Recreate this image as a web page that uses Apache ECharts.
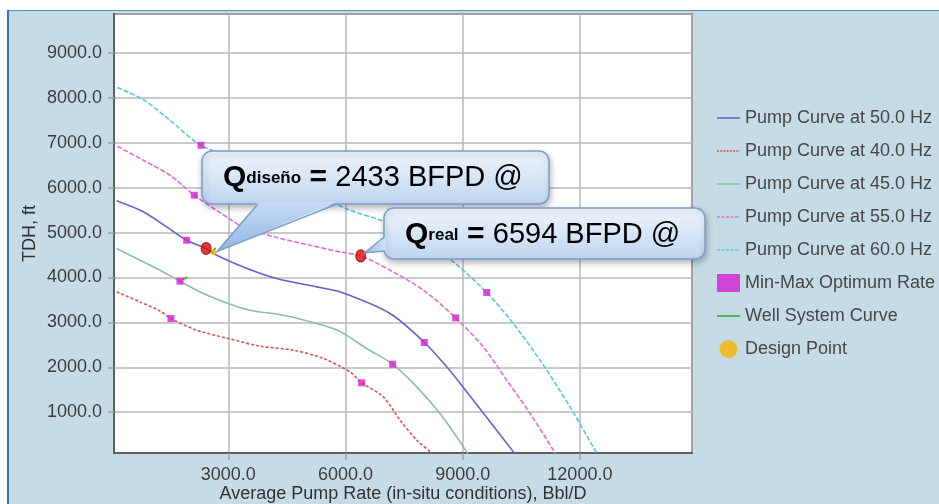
<!DOCTYPE html>
<html><head><meta charset="utf-8">
<script src="https://cdn.jsdelivr.net/npm/echarts@6/dist/echarts.min.js"></script>
<style>html,body{margin:0;padding:0;background:#fff}#c{width:939px;height:504px}</style>
</head><body><div id="c"></div>
<script>
// ---- data ----
const hz50 = [[143,5711],[824,5466],[1423,5127],[1935,4830],[2429,4646],[2703,4496],[3384,4236],[4237,3977],[5261,3791],[5855,3680],[7140,3198],[8019,2552],[8591,2010],[9272,1267],[9870,599],[10296,116],[10400,0]];
const hz40 = [[143,3679],[740,3456],[1252,3255],[1533,3085],[2191,2826],[3000,2641],[3811,2470],[4664,2381],[5432,2196],[6115,1897],[6415,1653],[6968,1341],[7396,822],[7823,376],[8164,116],[8250,0]];
const hz45 = [[143,4646],[655,4423],[1252,4162],[1764,3917],[2362,3643],[3000,3420],[3556,3272],[4408,3160],[5261,2975],[5855,2800],[6543,2418],[7209,2069],[7823,1563],[8420,971],[8847,450],[9103,116],[9180,0]];
const hz55 = [[158,6924],[824,6612],[1508,6278],[2130,5833],[2959,5349],[3376,5127],[4200,4900],[5092,4719],[5855,4570],[6389,4481],[7140,4162],[7994,3717],[8821,3100],[9528,2454],[10127,1713],[10724,971],[11320,154],[11420,0]];
const hz60 = [[158,8231],[824,7964],[1508,7503],[2301,6946],[3500,6550],[4500,6150],[5300,5830],[6115,5500],[6883,5280],[7500,5040],[8200,4680],[8803,4318],[9615,3665],[10288,2982],[10980,2158],[11748,1118],[12431,87],[12480,0]];
const optimumRates = [[2301,6946],[9615,3665],[2130,5833],[8821,3100],[1935,4830],[8019,2552],[1764,3917],[7209,2069],[1533,3085],[6415,1653]];
const wellSystem = [[1830,3950],[1950,4010],['-','-'],[2560,4560],[2680,4660]];
const designPoint = [[2620,4560]];
const qPoints = [[2433,4646],[6390,4481]];
const seriesNames = ['Pump Curve at 50.0 Hz','Pump Curve at 40.0 Hz','Pump Curve at 45.0 Hz','Pump Curve at 55.0 Hz','Pump Curve at 60.0 Hz','Min-Max Optimum Rate','Well System Curve','Design Point'];
const xAxisName = 'Average Pump Rate (in-situ conditions), Bbl/D';
const yAxisName = 'TDH, ft';
const callout1 = {sub:'diseño', value:'2433 BFPD @'};
const callout2 = {sub:'real', value:'6594 BFPD @'};

const FONT = '"Liberation Sans", Arial, sans-serif';
const chart = echarts.init(document.getElementById('c'), null, {renderer:'canvas'});

function curve(name, data, color, dash) {
  return {name, type:'line', data, symbol:'none', smooth:0.3, z:3,
    lineStyle:{color, width:1.6, type: dash || 'solid'}, itemStyle:{color}};
}
// legend line icons (thin bars; dashed where the series is dashed)
function iconPath(dash, gap) {
  const w = 23, h = 1.6;
  if (!dash) return 'path://M0,0h' + w + 'v' + h + 'h-' + w + 'Z';
  let s = 'path://';
  for (let x = 0; x < w; x += dash + gap) {
    const d = Math.min(dash, w - x);
    s += 'M' + x + ',0h' + d + 'v' + h + 'h-' + d + 'Z';
  }
  return s;
}
const legendIcons = [iconPath(0), iconPath(2, 1.2), iconPath(0), iconPath(3, 1.5), iconPath(3, 1.5), null, iconPath(0), null];

const option = {
  backgroundColor:'#c5dbe6',
  animation:false,
  grid:{left:114, right:247, top:14, bottom:51, outerBoundsMode:'none', containLabel:false,
    show:true, backgroundColor:'#ffffff', borderColor:'#5f5f5f', borderWidth:2},
  xAxis:{type:'value', min:75, max:14870, splitNumber:5,
    name:xAxisName, nameLocation:'middle', nameGap:32, nameMoveOverlap:false,
    nameTextStyle:{fontFamily:FONT, fontSize:18, color:'#333'},
    axisLine:{show:true, lineStyle:{color:'#5f5f5f', width:2}},
    axisTick:{show:true, length:7, lineStyle:{color:'#a0a0a0', width:1.5}},
    splitLine:{show:true, lineStyle:{color:'#b8b8b8', width:1.5}},
    axisLabel:{showMinLabel:false, showMaxLabel:false, margin:13, fontFamily:FONT, fontSize:18, color:'#3d3d3d',
      formatter:v=>v.toFixed(1)}},
  yAxis:{type:'value', min:90, max:9870, splitNumber:10,
    name:yAxisName, nameLocation:'middle', nameGap:75, nameRotate:90, nameMoveOverlap:false,
    nameTextStyle:{fontFamily:FONT, fontSize:18, color:'#333'},
    axisLine:{show:true, lineStyle:{color:'#5f5f5f', width:2}},
    axisTick:{show:true, length:6, lineStyle:{color:'#a0a0a0', width:1.5}},
    splitLine:{show:true, lineStyle:{color:'#b8b8b8', width:1.5}},
    axisLabel:{showMinLabel:false, showMaxLabel:false, margin:12, fontFamily:FONT, fontSize:18, color:'#3d3d3d',
      formatter:v=>v.toFixed(1)}},
  legend:{orient:'vertical', left:712, top:104, itemWidth:23, itemHeight:18, itemGap:15,
    symbolKeepAspect:true, itemStyle:{borderWidth:0},
    textStyle:{fontFamily:FONT, fontSize:18, color:'#474747'},
    data:seriesNames.map((n,i)=> legendIcons[i] ? {name:n, icon:legendIcons[i]} : {name:n})},
  series:[
    curve(seriesNames[0], hz50, '#6a5fd2'),
    curve(seriesNames[1], hz40, '#e0524c', [3,2]),
    curve(seriesNames[2], hz45, '#8fbcaa'),
    curve(seriesNames[3], hz55, '#e46ad8', [5,2]),
    curve(seriesNames[4], hz60, '#5cc6e0', [5,2]),
    {name:seriesNames[5], type:'scatter', data:optimumRates, symbol:'rect', symbolSize:7, z:4,
      itemStyle:{color:'#d21fd2'}},
    {name:seriesNames[6], type:'line', data:wellSystem, symbol:'none', z:4, connectNulls:false,
      lineStyle:{color:'#36a83a', width:1.6}, itemStyle:{color:'#36a83a'}},
    {name:seriesNames[7], type:'scatter', data:designPoint, symbol:'circle', symbolSize:6, z:4,
      itemStyle:{color:'#f5b400'}},
    {name:'Q', type:'scatter', data:qPoints, symbol:'circle', symbolSize:[10,12], z:5,
      itemStyle:{color:'#e00808', borderColor:'#7a0000', borderWidth:1}}
  ]
};
chart.setOption(option);

const p1 = chart.convertToPixel({gridIndex:0}, qPoints[0]);
const p2 = chart.convertToPixel({gridIndex:0}, qPoints[1]);

const fillGrad = {type:'linear', x:0, y:0, x2:0, y2:1, colorStops:[{offset:0,color:'#f1f6fd'},{offset:1,color:'#bed5f0'}]};
const tailGrad1 = {type:'linear', x:0, y:0, x2:0, y2:1, colorStops:[{offset:0,color:'#c6dbf4'},{offset:1,color:'#92b7e6'}]};
const tailGrad2 = {type:'linear', x:1, y:0, x2:0, y2:0, colorStops:[{offset:0,color:'#cfe0f6'},{offset:1,color:'#9cbde8'}]};
const STROKE = '#7a9fcb';
const rich = {
  q:{fontFamily:FONT, fontWeight:'bold', fontSize:30, color:'#111'},
  s:{fontFamily:FONT, fontWeight:'bold', fontSize:17, color:'#111'},
  e:{fontFamily:FONT, fontWeight:'bold', fontSize:30, color:'#111'},
  n:{fontFamily:FONT, fontSize:29, color:'#111'}
};
const shadow = {shadowBlur:6, shadowColor:'rgba(0,0,0,0.28)', shadowOffsetX:1, shadowOffsetY:3};

const t1 = [p1[0]+11, p1[1]+3];
const t2 = [p2[0]+4, p2[1]-3];

chart.setOption({graphic:[
  {type:'rect', z:1, silent:true, shape:{x:0,y:0,width:939,height:10}, style:{fill:'#ffffff'}},
  {type:'rect', z:1, silent:true, shape:{x:0,y:0,width:7,height:504}, style:{fill:'#ffffff'}},
  {type:'line', z:1, silent:true, shape:{x1:7,y1:10.5,x2:939,y2:10.5}, style:{stroke:'#5b8cb4', lineWidth:1}},
  {type:'line', z:1, silent:true, shape:{x1:8,y1:10,x2:8,y2:504}, style:{stroke:'#2079c2', lineWidth:2}},
  // callout 1
  {type:'rect', z:100, silent:true, shape:{x:202,y:151,width:347,height:53,r:10}, style:Object.assign({fill:fillGrad, stroke:STROKE, lineWidth:1.5}, shadow)},
  {type:'polygon', z:101, silent:true, shape:{points:[[258,202],[t1[0],t1[1]],[337,202]]}, style:{fill:tailGrad1}},
  {type:'polyline', z:102, silent:true, shape:{points:[[258,204],[t1[0],t1[1]],[337,204]]}, style:{stroke:STROKE, lineWidth:1.5, fill:null}},
  {type:'text', z:103, silent:true, x:223, y:178, style:{text:'{q|Q}{s|'+callout1.sub+'}{e| = }{n|'+callout1.value+'}', rich, verticalAlign:'middle', align:'left'}},
  // callout 2
  {type:'rect', z:100, silent:true, shape:{x:384,y:208,width:321,height:51,r:10}, style:Object.assign({fill:fillGrad, stroke:STROKE, lineWidth:1.5}, shadow)},
  {type:'polygon', z:101, silent:true, shape:{points:[[386,237],[t2[0],t2[1]],[386,251]]}, style:{fill:tailGrad2}},
  {type:'polyline', z:102, silent:true, shape:{points:[[384,237],[t2[0],t2[1]],[385,251]]}, style:{stroke:STROKE, lineWidth:1.5, fill:null}},
  {type:'text', z:103, silent:true, x:405, y:235, style:{text:'{q|Q}{s|'+callout2.sub+'}{e| = }{n|'+callout2.value+'}', rich, verticalAlign:'middle', align:'left'}}
]});
</script></body></html>
